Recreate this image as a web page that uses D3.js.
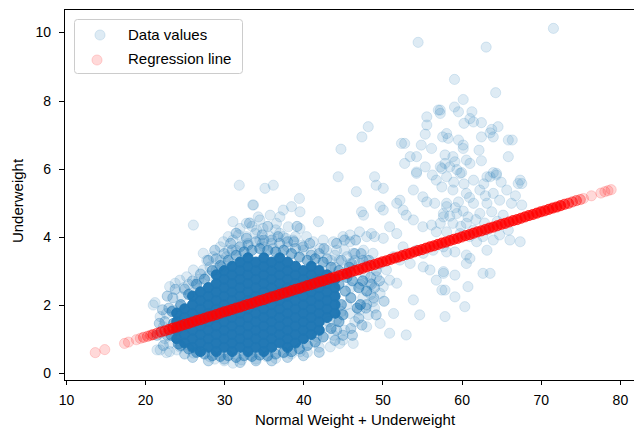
<!DOCTYPE html>
<html lang="en">
<head>
  <meta charset="UTF-8">
  <title>Underweight vs Normal Weight + Underweight</title>
  <script src="https://d3js.org/d3.v7.min.js"></script>
  <style>
    body { margin: 0; background: #fff; }
    .axis path, .axis line { stroke: #000; shape-rendering: crispEdges; }
    .axis text { font-family: "Liberation Sans", Arial, sans-serif; font-size: 14px; fill: #000; }
    .lbl { font-family: "Liberation Sans", Arial, sans-serif; font-size: 15px; fill: #000; }
  </style>
</head>
<body>
  <svg id="svg" width="634" height="430"></svg>
  <script>
    // ---- data ----
    // dense core of the cloud, column by column: [x, [y...]], each mark stands for many records
    var coreCols = [
      [24, [1.0, 1.25, 1.5, 1.75]],
      [25, [0.875, 1.125, 1.375, 1.625, 1.875]],
      [26, [0.75, 1.0, 1.25, 1.5, 1.75, 2.0, 2.25]],
      [27, [0.625, 0.875, 1.125, 1.375, 1.625, 1.875, 2.125, 2.375]],
      [28, [0.75, 1.0, 1.25, 1.5, 1.75, 2.0, 2.25, 2.5]],
      [29, [0.625, 0.875, 1.125, 1.375, 1.625, 1.875, 2.125, 2.375, 2.625, 2.875]],
      [30, [0.75, 1.0, 1.25, 1.5, 1.75, 2.0, 2.25, 2.5, 2.75, 3.0]],
      [31, [0.625, 0.875, 1.125, 1.375, 1.625, 1.875, 2.125, 2.375, 2.625, 2.875, 3.125]],
      [32, [0.75, 1.0, 1.25, 1.5, 1.75, 2.0, 2.25, 2.5, 2.75, 3.0, 3.25]],
      [33, [0.625, 0.875, 1.125, 1.375, 1.625, 1.875, 2.125, 2.375, 2.625, 2.875, 3.125, 3.375]],
      [34, [0.75, 1.0, 1.25, 1.5, 1.75, 2.0, 2.25, 2.5, 2.75, 3.0, 3.25]],
      [35, [0.625, 0.875, 1.125, 1.375, 1.625, 1.875, 2.125, 2.375, 2.625, 2.875, 3.125, 3.375]],
      [36, [0.75, 1.0, 1.25, 1.5, 1.75, 2.0, 2.25, 2.5, 2.75, 3.0, 3.25]],
      [37, [0.875, 1.125, 1.375, 1.625, 1.875, 2.125, 2.375, 2.625, 2.875, 3.125, 3.375]],
      [38, [0.75, 1.0, 1.25, 1.5, 1.75, 2.0, 2.25, 2.5, 2.75, 3.0, 3.25]],
      [39, [0.875, 1.125, 1.375, 1.625, 1.875, 2.125, 2.375, 2.625, 2.875, 3.125]],
      [40, [1.0, 1.25, 1.5, 1.75, 2.0, 2.25, 2.5, 2.75, 3.0]],
      [41, [1.125, 1.375, 1.625, 1.875, 2.125, 2.375, 2.625, 2.875, 3.125]],
      [42, [1.25, 1.5, 1.75, 2.0, 2.25, 2.5, 2.75, 3.0]],
      [43, [1.625, 1.875, 2.125, 2.375, 2.625, 2.875]],
      [44, [1.75, 2.0, 2.25, 2.5, 2.75]]
    ]
    var coreN = 25

    // edge of the core, each mark ~4 records
    var edgePts = [
      [24.5,2.0],[25.5,2.3],[26.5,2.6],[27.5,2.75],[28.5,3.0],[29.5,3.15],[30.5,3.3],[31.5,3.45],
      [32.5,3.55],[33.5,3.6],[34.5,3.65],[35.5,3.6],[36.5,3.55],[37.5,3.6],[38.5,3.5],[39.5,3.4],
      [40.5,3.3],[41.5,3.35],[42.5,3.25],[43.5,3.1],[44.5,3.0],[45.5,2.9],
      [24.5,0.8],[25.5,0.7],[26.5,0.6],[27.5,0.55],[28.5,0.5],[29.5,0.48],[30.5,0.5],[31.5,0.45],
      [32.5,0.5],[33.5,0.48],[34.5,0.52],[35.5,0.5],[36.5,0.55],[37.5,0.6],[38.5,0.62],[39.5,0.7],
      [40.5,0.8],[41.5,0.9],[42.5,1.05],[43.5,1.3],[44.5,1.5],
      [23.3,1.1],[23.6,1.45],[23.4,1.8],[24.2,0.85],
      [44.8,2.0],[45.3,2.4],[45.0,1.7],[46.0,2.2],[46.2,2.7],[45.8,3.1],[47.0,2.5],[46.8,1.9],
      [44.5,2.6],[45.5,2.8],[47.5,2.7],[48.0,2.4],[47.2,2.0]
    ]
    var edgeN = 4

    // outer fringe of the cluster, each mark ~2 records
    var fringePts = [
      [28.0,3.3],[30.0,3.5],[32.0,3.7],[34.0,3.85],[36.0,3.9],[38.0,3.85],[40.0,3.7],[42.0,3.5],
      [29.0,3.35],[31.0,3.6],[33.0,3.75],[35.0,3.9],[37.0,3.8],[39.0,3.65],[41.0,3.45],[43.0,3.35],
      [46.0,1.3],[47.0,1.6],[48.0,2.0],[46.5,3.5],[47.5,3.3],[48.5,2.8],[49.0,2.5],
      [22.5,1.5],[23.0,1.9],[23.5,2.2],[22.8,1.1],
      [26.0,0.45],[30.0,0.4],[34.0,0.35],[38.0,0.45],[42.0,0.6],[44.0,0.95],
      [44.2,3.8],[45.2,3.9],[46.6,3.9],[44.8,3.3],[46.1,3.2],[47.3,3.5],[48.3,3.3],[49.2,3.0],
      [48.6,2.6],[49.6,2.7],[48.9,2.2],[47.9,1.9],[47.4,1.4],[46.2,1.1],[45.0,1.1],[44.2,1.25],
      [49.2,1.7],[50.2,2.1],
      [27.0,2.9],[26.0,2.7],[25.0,2.45],[28.8,3.6],[30.8,3.8],[32.8,3.95],[34.8,4.05],[36.8,4.0],
      [38.8,3.85],[40.8,3.8],[42.6,3.65],[31.5,4.1],[35.5,4.3],[39.2,4.3],[33.2,4.4],
      [21.8,1.45],[22.2,1.85],[22.8,2.25],[23.8,2.45],[21.5,1.1],[22.3,0.8],
      [28.0,0.35],[32.0,0.3],[36.0,0.35],[40.0,0.5],[25.0,0.55]
    ]
    var fringeN = 2

    // single records: upper right cloud
    var upperPts = [
      [71.6,10.12],[63.1,9.57],[54.5,9.71],[59.1,8.62],[64.3,8.23],[60.2,8.03],[59.1,7.81],[59.6,7.67],
      [57.3,7.72],[57.05,7.72],[57.3,7.62],[61.3,7.67],[61.05,7.47],[61.5,7.37],[60.3,7.33],[62.5,7.35],
      [64.6,7.23],[63.8,7.15],[63.6,7.05],[62.5,6.93],[64.0,6.93],[65.9,6.84],[66.4,6.84],[58.1,7.03],
      [58.3,6.89],[59.6,6.84],[60.2,6.69],[60.2,6.59],[62.2,6.54],[65.9,6.35],[57.9,6.4],[58.9,6.35],
      [59.15,6.2],[60.6,6.25],[61.05,6.15],[58.5,6.05],[59.4,5.97],[60.0,5.88],[62.5,6.23],[64.0,5.88],
      [64.4,5.81],[63.6,5.76],[67.4,5.66],[57.3,6.05],[55.6,7.52],[55.6,7.28],[48.2,7.23],[47.4,6.93],
      [44.75,6.57],[55.4,7.01],[52.4,6.74],[52.8,6.74],[54.9,6.69],[56.2,6.59],[57.6,6.93],[53.5,6.35],
      [54.3,6.35],[52.8,6.15],[55.4,6.05],[54.3,5.9],[57.9,6.15],[57.5,6.0],[44.4,5.76],[49.0,5.76],
      [56.3,5.81],
      [58.1,5.76],[59.8,5.86],[61.5,5.66],[63.2,5.76],[64.4,5.86],[67.15,5.56],[67.6,5.56],[58.9,5.37],
      [60.6,5.27],[62.3,5.37],[64.0,5.27],[65.7,5.37],[58.1,4.98],[59.6,5.02],[61.5,4.98],[63.2,4.98],
      [64.8,5.07],[66.3,4.98],[67.6,4.93],[57.7,4.68],[59.4,4.68],[60.8,4.58],[62.3,4.68],[63.8,4.73],
      [65.25,4.63],[57.3,4.39],[58.9,4.39],[60.6,4.39],[58.1,4.14],[59.8,4.09],[61.5,4.19],[62.7,4.0],
      [64.0,3.9],[66.1,3.9],[67.4,3.85],[61.9,3.85],[58.1,3.55],[59.15,3.55],[60.6,3.46],[61.05,3.36],
      [63.2,3.6],[64.8,4.05],[65.9,4.19],[60.6,3.21],[57.7,2.97],[59.15,2.87],[62.7,2.92],[63.6,2.92],
      [60.8,2.53],[57.5,2.43],[59.15,2.23],[60.4,1.94],
      [59.0,5.6],[60.3,5.55],[62.8,5.55],[61.0,5.15],[63.0,5.2],[59.2,4.85],[60.2,4.75],[61.8,4.5],
      [62.9,4.4],[64.5,4.45],[66.8,5.2],[65.0,5.6],[59.9,4.3],[58.5,4.6],[61.0,4.0],[63.3,4.2]
    ]

    // single records: middle band
    var midPts = [
      [49.2,5.51],[50.1,5.42],[35.15,5.42],[36.2,5.51],[39.5,5.12],[33.7,4.93],[46.7,5.32],[47.35,4.73],
      [47.6,4.63],[49.7,4.88],[50.1,4.78],[41.9,4.44],[51.8,4.98],[52.2,5.07],[52.6,4.78],[53.0,4.63],
      [53.9,5.37],[54.3,5.86],[55.1,5.17],[55.6,5.02],[56.8,5.66],[57.5,5.46],[56.6,4.98],[58.1,4.88],
      [57.7,4.58],[53.9,4.49],[55.1,4.29],[56.2,4.34],[56.8,4.14],[50.9,4.29],[51.8,4.09],[50.1,3.95],
      [49.0,4.0],[48.6,4.09],[48.0,4.0],[47.1,4.14],[45.9,4.05],[37.46,4.78],[38.5,4.88],[39.57,4.73],
      [37.04,4.58],[35.8,4.63],[34.5,4.49],[36.6,4.39],[38.1,4.29],[39.57,4.24],[34.9,4.24],[33.9,4.09],
      [35.8,4.0],[37.46,4.0],[38.7,3.9],[40.4,4.0],[41.25,3.85],[42.5,3.9],[43.8,3.85],[45.0,4.0],
      [45.9,3.85],[44.2,3.6],[42.9,3.6],[42.1,3.65],[46.3,3.51],[45.5,3.41],[47.6,3.6],[48.8,3.51],
      [48.0,3.31],[49.7,3.21],[47.1,3.21],[45.9,3.21],[50.5,3.02],[49.25,2.82],[48.4,2.63],[50.9,2.72],
      [51.8,2.63],[50.1,2.53],[49.7,2.33],[48.8,2.09],[47.1,1.84],[45.9,1.74],[44.2,1.55],[42.9,1.35],
      [41.7,1.06],[44.6,0.86],[46.3,0.86],[48.0,1.35],[49.7,1.45],[51.4,1.74],[50.9,1.16],[53.0,1.11],
      [53.9,2.14],[54.7,1.7],[56.0,3.02],[56.8,2.72],[57.7,2.92],[57.9,2.43],[57.9,1.65],[55.15,3.11],
      [53.5,3.21],[52.2,3.31],[51.4,3.41],[52.6,3.7],[54.3,3.6],[55.15,3.51],[56.4,3.6],[57.7,3.7],
      [43.5,3.3],[44.5,3.3],[46.8,3.0],[47.5,2.2],[46.5,1.5],[45.2,1.25],[43.8,1.1],[47.8,2.9],
      [48.2,1.7],[44.0,3.1],[46.0,2.5],[47.2,2.6],[45.5,2.0],[44.8,1.8],[43.2,1.5],[48.5,2.3],
      [49.0,1.9],[46.5,3.3],[45.2,3.6],[44.0,3.45]
    ]

    // single records: left and lower halo of the cluster
    var lowPts = [
      [31.9,5.51],[33.6,4.93],[31.1,4.44],[26.1,4.34],[29.9,3.85],[30.5,4.0],[32.0,4.24],[32.8,4.39],
      [31.1,3.9],[32.2,3.75],[32.8,4.0],[34.1,4.19],[34.3,4.58],[29.5,3.7],[27.35,3.51],[28.6,3.41],
      [27.35,3.02],[28.2,3.11],[29.0,3.02],[26.1,3.02],[25.25,2.82],[29.5,3.31],[29.7,3.11],[30.3,3.41],
      [31.5,3.6],[33.0,3.8],[34.5,3.9],[36.0,3.8],[37.0,4.1],[38.0,3.7],[39.0,4.0],[40.0,3.6],
      [35.0,3.7],[36.5,4.2],[33.5,4.3],[30.5,3.6],[31.8,4.05],[34.8,3.8],[39.8,3.75],[41.0,3.55],
      [37.8,3.95],[36.2,3.65],[28.0,2.85],[26.8,2.75],[27.8,3.3],
      [21.03,1.99],[21.25,2.06],[21.9,1.65],[23.1,2.53],[23.8,2.63],[24.6,2.23],[25.7,2.33],[22.7,1.74],
      [23.55,1.84],[24.4,1.94],[22.3,1.35],[23.1,1.25],[23.8,1.06],[24.4,2.72],[22.5,1.0],[22.0,1.2],
      [24.9,2.5],[25.5,2.6],[26.3,2.6],
      [21.5,0.67],[23.1,0.62],[26.1,0.58],[28.2,0.47],[33.25,0.52],[35.4,0.47],[37.5,0.58],[39.6,0.62],
      [43.4,0.76],[45.0,0.96],[31.1,0.28],[24.0,0.67],[22.7,0.59],[21.9,0.67],[24.4,0.76],[23.1,0.86],
      [30.0,0.35],[34.0,0.4],[40.5,0.6],[28.8,0.4],[36.5,0.42],[32.2,0.38],[38.5,0.55],[42.0,0.75]
    ]

    // regression line (predicted values), main run ~7 records per mark
    var regX = [23.0,23.5,24.0,24.5,25.0,25.5,26.0,26.5,27.0,27.5,28.0,28.5,29.0,29.5,30.0,30.5,31.0,31.5,32.0,32.5,
      33.0,33.5,34.0,34.5,35.0,35.5,36.0,36.5,37.0,37.5,38.0,38.5,39.0,39.5,40.0,40.5,41.0,41.5,42.0,42.5,
      43.0,43.5,44.0,44.5,45.0,45.5,46.0,46.5,47.0,47.5,48.0,48.5,49.0,49.5,50.0,50.5,51.0,51.5,52.0,52.5,
      53.0,53.5,54.0,54.5,55.0,55.5,56.0,56.5,57.0,57.5,58.0,58.5,59.0,59.5,60.0,60.5,61.0,61.5,62.0,62.5,
      63.0,63.5,64.0,64.5,65.0,65.5,66.0,66.5,67.0,67.5,68.0,68.5,69.0,69.5,70.0,70.5,71.0,71.5,72.0,72.5]
    var regY = [1.27,1.31,1.34,1.38,1.42,1.45,1.49,1.53,1.56,1.60,1.64,1.67,1.71,1.75,1.79,1.82,1.86,1.90,1.93,1.97,
      2.01,2.04,2.08,2.12,2.15,2.19,2.23,2.26,2.30,2.34,2.37,2.41,2.45,2.48,2.52,2.56,2.59,2.63,2.67,2.70,
      2.74,2.78,2.81,2.85,2.89,2.92,2.96,3.00,3.03,3.07,3.11,3.15,3.18,3.22,3.26,3.29,3.33,3.37,3.40,3.44,
      3.48,3.51,3.55,3.59,3.62,3.66,3.70,3.73,3.77,3.81,3.84,3.88,3.92,3.95,3.99,4.03,4.06,4.10,4.14,4.17,
      4.21,4.25,4.28,4.32,4.36,4.39,4.43,4.47,4.50,4.54,4.58,4.62,4.65,4.69,4.73,4.76,4.80,4.84,4.87,4.91]
    var regN = 7
    // the thinner ends of the regression line
    var regTailX = [13.7,14.9,17.4,17.9,18.9,19.4,19.8,20.3,20.7,21.0,21.5,22.0,22.5,
      73.0,73.5,74.0,74.5,75.0,75.4,76.4,77.6,78.1,78.5,78.9]
    var regTailY = [0.59,0.68,0.86,0.90,0.97,1.01,1.04,1.07,1.10,1.12,1.16,1.20,1.23,
      4.95,4.98,5.02,5.06,5.09,5.12,5.20,5.28,5.32,5.35,5.38]
    var regTailN = [1,1,1,1,1,1,2,2,2,3,3,4,5,
      5,4,3,3,2,1,1,1,1,1,1]

    var xTicks = [10, 20, 30, 40, 50, 60, 70, 80]
    var yTicks = [0, 2, 4, 6, 8, 10]

    // ---- layout ----
    var W = 634, H = 430
    var plot = { left: 64, right: 646, top: 9, bottom: 380 }
    var alpha = 0.15
    var blueC = '#1f77b4', redC = '#ff0000'
    var r = 5.1

    function op(n) { return 1 - Math.pow(1 - alpha, n) }

    var x = d3.scaleLinear().domain([9.75, 83.3]).range([plot.left, plot.right])
    var y = d3.scaleLinear().domain([-0.214, 10.69]).range([plot.bottom, plot.top])

    var svg = d3.select('#svg')
    svg.append('rect').attr('width', W).attr('height', H).attr('fill', '#fff')

    svg.append('clipPath').attr('id', 'clip')
      .append('rect')
      .attr('x', plot.left).attr('y', plot.top)
      .attr('width', plot.right - plot.left).attr('height', plot.bottom - plot.top)

    var blue = []
    coreCols.forEach(c => c[1].forEach(v => blue.push({ x: c[0], y: v, n: coreN })))
    edgePts.forEach(p => blue.push({ x: p[0], y: p[1], n: edgeN }))
    fringePts.forEach(p => blue.push({ x: p[0], y: p[1], n: fringeN }))
    upperPts.concat(midPts, lowPts).forEach(p => blue.push({ x: p[0], y: p[1], n: 1 }))

    var red = []
    regX.forEach((v, i) => red.push({ x: v, y: regY[i], n: regN }))
    regTailX.forEach((v, i) => red.push({ x: v, y: regTailY[i], n: regTailN[i] }))

    var g = svg.append('g').attr('clip-path', 'url(#clip)')

    function dots(sel, data, color) {
      sel.selectAll(null)
        .data(data)
        .enter()
        .append('circle')
        .attr('cx', d => x(d.x))
        .attr('cy', d => y(d.y))
        .attr('r', r)
        .attr('fill', color)
        .attr('fill-opacity', d => op(d.n))
        .attr('stroke', color)
        .attr('stroke-opacity', d => op(d.n))
        .attr('stroke-width', 1)
    }
    dots(g.append('g'), blue, blueC)
    dots(g.append('g'), red, redC)

    // axes
    svg.append('g')
      .attr('class', 'axis')
      .attr('transform', 'translate(0,' + plot.bottom + ')')
      .call(d3.axisBottom(x).tickValues(xTicks).tickSize(5).tickSizeOuter(0).tickPadding(10))
    svg.append('g')
      .attr('class', 'axis')
      .attr('transform', 'translate(' + plot.left + ',0)')
      .call(d3.axisLeft(y).tickValues(yTicks).tickSize(5).tickSizeOuter(0).tickPadding(8))
    // top spine
    svg.append('line')
      .attr('x1', plot.left).attr('x2', plot.right)
      .attr('y1', plot.top + 0.5).attr('y2', plot.top + 0.5)
      .attr('stroke', '#000')

    // axis labels
    svg.append('text').attr('class', 'lbl')
      .attr('x', (plot.left + plot.right) / 2).attr('y', 425)
      .attr('text-anchor', 'middle')
      .text('Normal Weight + Underweight')
    svg.append('text').attr('class', 'lbl')
      .attr('transform', 'translate(23,201) rotate(-90)')
      .attr('text-anchor', 'middle')
      .text('Underweight')

    // legend
    var lg = svg.append('g')
    lg.append('rect')
      .attr('x', 74.5).attr('y', 19.5).attr('width', 168).attr('height', 54).attr('rx', 3)
      .attr('fill', '#fff').attr('fill-opacity', 0.8)
      .attr('stroke', '#cccccc')
    var items = [
      { label: 'Data values', color: blueC, cx: 100, cy: 35, ty: 40 },
      { label: 'Regression line', color: redC, cx: 97, cy: 60, ty: 64 }
    ]
    items.forEach(it => {
      lg.append('circle')
        .attr('cx', it.cx).attr('cy', it.cy).attr('r', r)
        .attr('fill', it.color).attr('fill-opacity', alpha)
        .attr('stroke', it.color).attr('stroke-opacity', alpha)
      lg.append('text').attr('class', 'lbl')
        .attr('x', 128).attr('y', it.ty)
        .text(it.label)
    })
  </script>
</body>
</html>
